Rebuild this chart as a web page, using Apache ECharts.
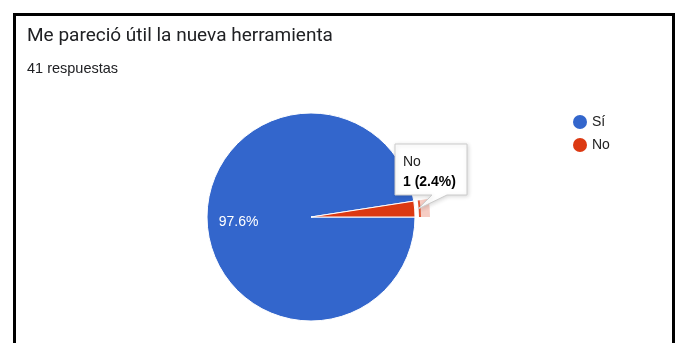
<!DOCTYPE html>
<html>
<head>
<meta charset="utf-8">
<script src="https://cdn.jsdelivr.net/npm/echarts@6/dist/echarts.min.js"></script>
<style>
html,body{margin:0;padding:0;background:#fff;}
#c{width:681px;height:343px;}
</style>
</head>
<body>
<div id="c"></div>
<script>
const titleText = 'Me pareció útil la nueva herramienta';
const subtitleText = '41 respuestas';
const categories = ['Sí', 'No'];
const counts = [40, 1];
const colors = ['#3366CC', '#DC3912'];

const total = counts.reduce((a, b) => a + b, 0);
const pct = counts.map(v => (v / total * 100).toFixed(1) + '%');
const hi = 1; // highlighted slice (No)

const center = [311, 217];
const R = 104;
const bodyFont = '"Liberation Sans", Arial, sans-serif';

const chart = echarts.init(document.getElementById('c'), null, {renderer: 'canvas'});

const baseData = categories.map((c, i) => ({name: c, value: counts[i], itemStyle: {color: colors[i]}}));

const option = {
  backgroundColor: '#fff',
  animation: false,
  title: [
    {text: titleText, left: 22, top: 22, textStyle: {fontFamily: 'Roboto', fontSize: 19, fontWeight: 'normal', color: '#202124'}},
    {text: subtitleText, left: 22, top: 56, textStyle: {fontFamily: bodyFont, fontSize: 14.5, fontWeight: 'normal', color: '#202124'}}
  ],
  legend: {
    orient: 'vertical', left: 568, top: 110,
    icon: 'circle', itemWidth: 14, itemHeight: 14, itemGap: 9,
    data: categories,
    itemStyle: {borderWidth: 0},
    textStyle: {fontFamily: bodyFont, fontSize: 14, color: '#222', padding: [0, 0, 0, 0]}
  },
  series: [
    {
      type: 'pie', center: center, radius: [0, R],
      startAngle: 0, clockwise: true,
      silent: true,
      itemStyle: {borderColor: '#fff', borderWidth: 1},
      label: {show: false}, labelLine: {show: false},
      data: baseData
    },
    {
      // label-only layer, so the percentage sits at ~0.67 of the radius
      type: 'pie', center: center, radius: [0, R * 1.34],
      startAngle: 0, clockwise: true, silent: true, legendHoverLink: false,
      itemStyle: {color: 'rgba(0,0,0,0)'},
      label: {show: true, position: 'inside', color: '#fff', fontFamily: bodyFont, fontSize: 14,
              formatter: p => p.dataIndex === 0 ? pct[p.dataIndex] : ''},
      labelLine: {show: false},
      data: categories.map((c, i) => ({name: c + ' ', value: counts[i]}))
    },
    {
      // highlight halo (darker inner edge)
      type: 'pie', center: center, radius: [R + 4, R + 6],
      startAngle: 0, clockwise: true, silent: true,
      label: {show: false}, labelLine: {show: false},
      data: categories.map((c, i) => ({name: c + '  ', value: counts[i],
        itemStyle: {color: i === hi ? 'rgba(220,57,18,0.85)' : 'rgba(0,0,0,0)'}}))
    },
    {
      // highlight halo (pale)
      type: 'pie', center: center, radius: [R + 6, R + 15],
      startAngle: 0, clockwise: true, silent: true,
      label: {show: false}, labelLine: {show: false},
      data: categories.map((c, i) => ({name: c + '   ', value: counts[i],
        itemStyle: {color: i === hi ? 'rgba(220,57,18,0.25)' : 'rgba(0,0,0,0)'}}))
    }
  ],
  graphic: [
    {
      type: 'polygon', z: 100,
      shape: {points: [[395,144],[467,144],[467,195],[447,195],[418,209],[432,195],[395,195]]},
      style: {fill: '#fff', stroke: '#cccccc', lineWidth: 1,
              shadowBlur: 4, shadowColor: 'rgba(0,0,0,0.15)', shadowOffsetX: 1, shadowOffsetY: 1}
    },
    {
      type: 'text', z: 101, left: 403, top: 155,
      style: {text: categories[hi], font: '14px ' + bodyFont, fill: '#222'}
    },
    {
      type: 'text', z: 101, left: 403, top: 175,
      style: {text: counts[hi] + ' (' + pct[hi] + ')', font: 'bold 14px ' + bodyFont, fill: '#000'}
    },
    {
      type: 'rect', z: 200,
      shape: {x: 14.5, y: 14.5, width: 659, height: 400},
      style: {fill: 'none', stroke: '#000', lineWidth: 3}
    }
  ]
};
chart.setOption(option);
</script>
</body>
</html>
